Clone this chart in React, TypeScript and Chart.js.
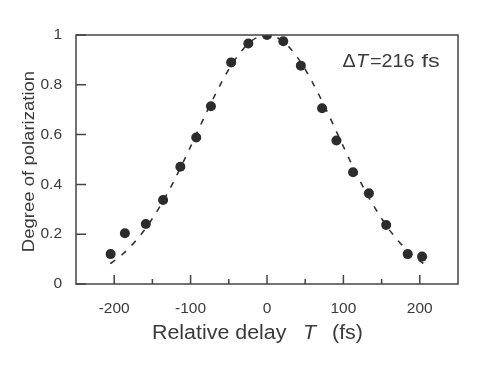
import React, { useEffect, useRef } from "react";
import { Chart, registerables } from "chart.js";

Chart.register(...registerables);

// Measured data points (relative delay in fs, degree of polarization)
const delays = [-204.7, -186, -158.6, -136, -113.4, -92.6, -73.4, -46.9, -24.4, 0, 21.3, 44.3, 72.1, 90.9, 112.6, 133.4, 156, 184.2, 203];
const polarization = [0.12, 0.204, 0.241, 0.337, 0.471, 0.588, 0.714, 0.89, 0.966, 1.0, 0.975, 0.877, 0.706, 0.576, 0.449, 0.364, 0.237, 0.12, 0.11];

// Dashed fit curve
const fitDelays = [-205, -200, -190, -180, -170, -160, -150, -140, -130, -120, -110, -100, -90, -80, -70, -60, -50, -40, -30, -20, -10, 0, 10, 20, 30, 40, 50, 60, 70, 80, 90, 100, 110, 120, 130, 140, 150, 160, 170, 180, 190, 200, 205];
const fitValues = [0.082, 0.093, 0.117, 0.146, 0.18, 0.218, 0.263, 0.312, 0.366, 0.425, 0.487, 0.552, 0.618, 0.684, 0.747, 0.807, 0.862, 0.909, 0.948, 0.977, 0.994, 1.0, 0.994, 0.977, 0.948, 0.909, 0.862, 0.807, 0.747, 0.684, 0.618, 0.552, 0.487, 0.425, 0.366, 0.312, 0.263, 0.218, 0.18, 0.146, 0.117, 0.093, 0.082];

const xTickValues = [-200, -100, 0, 100, 200];
const xMinorTickValues = [-150, -50, 50, 150];
const yTickValues = [0, 0.2, 0.4, 0.6, 0.8, 1];
const yTickLabels = ["0", "0.2", "0.4", "0.6", "0.8", "1"];

const FONT = "'Liberation Sans', Arial, Helvetica, sans-serif";
const INK = "#3a3a3a";

const framePlugin = {
  id: "framePlugin",
  afterDraw(chart: any) {
    const { ctx, chartArea } = chart;
    const { left, right, top, bottom } = chartArea;
    const xs = chart.scales.x;
    const ys = chart.scales.y;
    ctx.save();
    ctx.strokeStyle = "#444";
    ctx.lineWidth = 1.5;
    ctx.strokeRect(left, top, right - left, bottom - top);
    ctx.beginPath();
    xTickValues.forEach((v) => {
      const px = xs.getPixelForValue(v);
      ctx.moveTo(px, bottom);
      ctx.lineTo(px, bottom - 9);
    });
    xMinorTickValues.forEach((v) => {
      const px = xs.getPixelForValue(v);
      ctx.moveTo(px, bottom);
      ctx.lineTo(px, bottom - 5);
    });
    yTickValues.forEach((v) => {
      const py = ys.getPixelForValue(v);
      ctx.moveTo(left, py);
      ctx.lineTo(left + 10, py);
    });
    ctx.stroke();

    ctx.fillStyle = INK;
    ctx.textBaseline = "alphabetic";
    ctx.textAlign = "left";

    // x-axis title
    const cx = (left + right) / 2;
    const drawScaled = (text: string, x: number, y: number, font: string, sx: number) => {
      ctx.save();
      ctx.font = font;
      ctx.translate(x, y);
      ctx.scale(sx, 1);
      ctx.fillText(text, 0, 0);
      ctx.restore();
    };
    const xTitleY = bottom + 55;
    drawScaled("Relative delay", cx - 115, xTitleY, `20px ${FONT}`, 1.07);
    drawScaled("T", cx + 36, xTitleY, `italic 20px ${FONT}`, 1.07);
    drawScaled("(fs)", cx + 65, xTitleY, `20px ${FONT}`, 1.07);

    // y-axis title
    ctx.save();
    ctx.translate(34, (top + bottom) / 2 + 2);
    ctx.rotate(-Math.PI / 2);
    ctx.scale(1.09, 1);
    ctx.textAlign = "center";
    ctx.font = `17px ${FONT}`;
    ctx.fillText("Degree of polarization", 0, 0);
    ctx.restore();

    // annotation
    const ay = top + 32;
    drawScaled("\u0394", right - 115.5, ay, `18px ${FONT}`, 1.1);
    drawScaled("T", right - 102, ay, `italic 18px ${FONT}`, 1.1);
    drawScaled("=216", right - 88, ay, `18px ${FONT}`, 1.1);
    drawScaled("fs", right - 36.5, ay, `18px ${FONT}`, 1.3);
    ctx.restore();
  },
};

export default function App() {
  const canvasRef = useRef<HTMLCanvasElement | null>(null);

  useEffect(() => {
    if (!canvasRef.current) return;
    const chart = new Chart(canvasRef.current, {
      type: "scatter",
      data: {
        datasets: [
          {
            label: "Measured",
            data: delays.map((d, i) => ({ x: d, y: polarization[i] })),
            pointRadius: 5,
            pointBackgroundColor: "#2c2c2c",
            pointBorderWidth: 0,
            showLine: false,
          },
          {
            label: "Fit",
            data: fitDelays.map((d, i) => ({ x: d, y: fitValues[i] })),
            showLine: true,
            pointRadius: 0,
            borderColor: "#333",
            borderWidth: 1.6,
            borderDash: [6, 8],
            tension: 0.3,
            fill: false,
          },
        ],
      },
      options: {
        responsive: false,
        animation: false,
        devicePixelRatio: 1,
        layout: { padding: { top: 35, right: 33, left: 0, bottom: 0 } },
        plugins: { legend: { display: false }, tooltip: { enabled: false }, title: { display: false } },
        scales: {
          x: {
            type: "linear",
            min: -250,
            max: 250,
            grid: { display: false, drawTicks: false },
            border: { display: false },
            afterBuildTicks: (s: any) => {
              s.ticks = xTickValues.map((v) => ({ value: v }));
            },
            afterFit: (s: any) => {
              s.height = 96;
            },
            ticks: {
              autoSkip: false,
              maxRotation: 0,
              padding: 15,
              color: INK,
              font: { family: FONT, size: 15.5 },
              callback: (v: any) => String(v),
            },
          },
          y: {
            type: "linear",
            min: 0,
            max: 1,
            grid: { display: false, drawTicks: false },
            border: { display: false },
            afterBuildTicks: (s: any) => {
              s.ticks = yTickValues.map((v) => ({ value: v }));
            },
            afterFit: (s: any) => {
              s.width = 76;
            },
            ticks: {
              autoSkip: false,
              padding: 14,
              color: INK,
              font: { family: FONT, size: 15.5 },
              callback: (_v: any, i: number) => yTickLabels[i],
            },
          },
        },
      },
      plugins: [framePlugin],
    } as any);
    return () => chart.destroy();
  }, []);

  return (
    <div style={{ position: "absolute", left: 0, top: 0, width: 491, height: 380, background: "#fff" }}>
      <canvas ref={canvasRef} width={491} height={380} style={{ display: "block" }} />
    </div>
  );
}
